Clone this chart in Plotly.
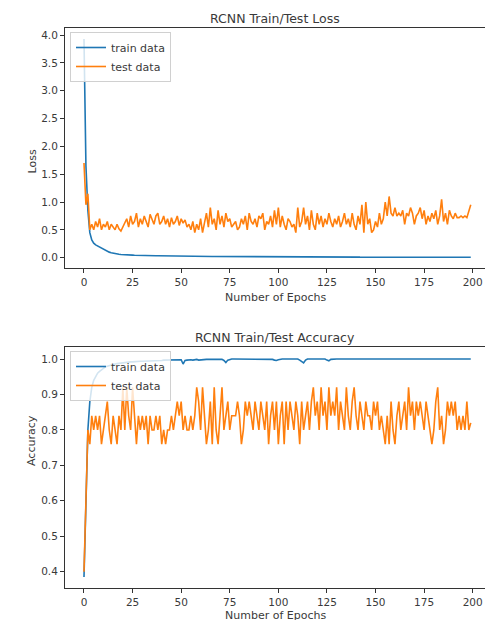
import plotly.graph_objects as go

epochs = list(range(200))

train_loss = [
    3.93, 1.65, 0.85, 0.45, 0.32, 0.26, 0.23, 0.21, 0.19, 0.17,
    0.15, 0.13, 0.115, 0.10, 0.09, 0.08, 0.072, 0.066, 0.061, 0.057,
    0.053, 0.05, 0.048, 0.046, 0.045, 0.046, 0.044, 0.042, 0.041, 0.040,
    0.039, 0.038, 0.038, 0.037, 0.036, 0.036, 0.035, 0.035, 0.034, 0.033,
    0.033, 0.032, 0.032, 0.031, 0.031, 0.030, 0.030, 0.029, 0.029, 0.028,
    0.028, 0.029, 0.027, 0.027, 0.026, 0.026, 0.026, 0.025, 0.025, 0.025,
    0.024, 0.024, 0.024, 0.023, 0.023, 0.023, 0.022, 0.022, 0.022, 0.022,
    0.021, 0.021, 0.022, 0.024, 0.021, 0.020, 0.020, 0.020, 0.020, 0.019,
    0.019, 0.019, 0.019, 0.018, 0.018, 0.018, 0.018, 0.018, 0.017, 0.017,
    0.017, 0.017, 0.017, 0.016, 0.016, 0.016, 0.016, 0.016, 0.017, 0.018,
    0.016, 0.015, 0.015, 0.015, 0.015, 0.015, 0.015, 0.014, 0.014, 0.014,
    0.014, 0.016, 0.020, 0.022, 0.016, 0.014, 0.013, 0.013, 0.013, 0.013,
    0.013, 0.013, 0.013, 0.012, 0.012, 0.014, 0.015, 0.012, 0.012, 0.012,
    0.012, 0.012, 0.012, 0.011, 0.011, 0.011, 0.011, 0.011, 0.011, 0.011,
    0.011, 0.011, 0.010, 0.010, 0.010, 0.010, 0.010, 0.010, 0.010, 0.010,
    0.010, 0.010, 0.010, 0.010, 0.010, 0.009, 0.009, 0.009, 0.009, 0.009,
    0.009, 0.009, 0.009, 0.009, 0.009, 0.009, 0.009, 0.009, 0.009, 0.008,
    0.008, 0.008, 0.008, 0.008, 0.008, 0.008, 0.008, 0.008, 0.008, 0.008,
    0.008, 0.008, 0.008, 0.008, 0.008, 0.007, 0.007, 0.007, 0.007, 0.007,
    0.007, 0.007, 0.007, 0.007, 0.007, 0.007, 0.007, 0.007, 0.007, 0.007,
]

test_loss = [
    1.70, 0.95, 1.15, 0.50, 0.60, 0.50, 0.65, 0.55, 0.70, 0.50,
    0.60, 0.55, 0.65, 0.50, 0.60, 0.55, 0.50, 0.60, 0.52, 0.48,
    0.55, 0.65, 0.70, 0.55, 0.75, 0.60, 0.65, 0.80, 0.55, 0.70,
    0.60, 0.75, 0.65, 0.55, 0.78, 0.70, 0.60, 0.75, 0.80, 0.60,
    0.65, 0.75, 0.60, 0.70, 0.55, 0.72, 0.60, 0.65, 0.75, 0.58,
    0.70, 0.62, 0.68, 0.55, 0.60, 0.50, 0.65, 0.45, 0.60, 0.50,
    0.70, 0.45, 0.60, 0.80, 0.55, 0.90, 0.60, 0.70, 0.50, 0.85,
    0.60, 0.75, 0.55, 0.80, 0.65, 0.70, 0.55, 0.60, 0.65, 0.50,
    0.55, 0.70, 0.60, 0.75, 0.50, 0.80, 0.65, 0.60, 0.70, 0.55,
    0.75, 0.70, 0.80, 0.50, 0.65, 0.60, 0.75, 0.55, 0.85, 0.60,
    0.90, 0.55, 0.75, 0.60, 0.50, 0.70, 0.65, 0.55, 0.60, 0.45,
    0.90, 0.55, 0.65, 0.90, 0.60, 0.75, 0.50, 0.85, 0.60, 0.50,
    0.80, 0.60, 0.75, 0.55, 0.70, 0.60, 0.80, 0.65, 0.55, 0.70,
    0.60, 0.75, 0.55, 0.65, 0.80, 0.60, 0.70, 0.55, 0.80, 0.60,
    0.50, 0.75, 0.60, 0.95, 0.45, 1.00, 0.60, 0.70, 0.45, 0.50,
    0.65, 0.55, 0.80, 0.60, 0.70, 1.00, 0.75, 1.10, 0.80, 0.75,
    0.90, 0.75, 0.80, 0.75, 0.85, 0.60, 0.80, 0.75, 0.90, 0.80,
    0.60, 0.75, 0.80, 0.90, 0.70, 0.85, 0.60, 0.75, 0.65, 0.80,
    0.70, 0.85, 0.60, 0.75, 1.05, 0.65, 0.80, 0.60, 0.85, 0.75,
    0.70, 0.80, 0.72, 0.72, 0.75, 0.72, 0.75, 0.72, 0.85, 0.95,
]

train_acc = [
    0.385, 0.64, 0.80, 0.88, 0.92, 0.94, 0.95, 0.96, 0.965, 0.97,
    0.975, 0.978, 0.98, 0.982, 0.984, 0.985, 0.986, 0.987, 0.988, 0.989,
    0.99, 0.99, 0.991, 0.991, 0.992, 0.992, 0.993, 0.993, 0.993, 0.994,
    0.994, 0.994, 0.995, 0.995, 0.995, 0.995, 0.996, 0.996, 0.996, 0.996,
    0.996, 0.997, 0.997, 0.997, 0.997, 0.997, 0.997, 0.998, 0.998, 0.998,
    0.998, 0.986, 0.996, 0.997, 0.998, 0.998, 0.997, 0.998, 0.999, 0.997,
    0.998, 0.999, 0.999, 0.999, 0.999, 0.999, 0.999, 0.999, 1.0, 1.0,
    0.999, 0.999, 0.996, 0.99, 0.997, 0.999, 1.0, 1.0, 1.0, 1.0,
    1.0, 1.0, 1.0, 1.0, 1.0, 1.0, 1.0, 1.0, 1.0, 1.0,
    1.0, 1.0, 1.0, 1.0, 1.0, 1.0, 1.0, 0.999, 0.997, 0.996,
    0.998, 1.0, 1.0, 1.0, 1.0, 1.0, 1.0, 1.0, 1.0, 1.0,
    1.0, 0.997, 0.992, 0.989, 0.997, 1.0, 1.0, 1.0, 1.0, 1.0,
    1.0, 1.0, 1.0, 1.0, 1.0, 0.997, 0.995, 0.999, 1.0, 1.0,
    1.0, 1.0, 1.0, 1.0, 1.0, 1.0, 1.0, 1.0, 1.0, 1.0,
    1.0, 1.0, 1.0, 1.0, 1.0, 1.0, 1.0, 1.0, 1.0, 1.0,
    1.0, 1.0, 1.0, 1.0, 1.0, 1.0, 1.0, 1.0, 1.0, 1.0,
    1.0, 1.0, 1.0, 1.0, 1.0, 1.0, 1.0, 1.0, 1.0, 1.0,
    1.0, 1.0, 1.0, 1.0, 1.0, 1.0, 1.0, 1.0, 1.0, 1.0,
    1.0, 1.0, 1.0, 1.0, 1.0, 1.0, 1.0, 1.0, 1.0, 1.0,
    1.0, 1.0, 1.0, 1.0, 1.0, 1.0, 1.0, 1.0, 1.0, 1.0,
]

test_acc = [
    0.40, 0.64, 0.80, 0.76, 0.84, 0.80, 0.84, 0.80, 0.84, 0.76,
    0.80, 0.84, 0.88, 0.80, 0.76, 0.84, 0.80, 0.76, 0.84, 0.80,
    0.92, 0.80, 0.92, 0.84, 0.80, 0.92, 0.84, 0.76, 0.84, 0.80,
    0.84, 0.80, 0.84, 0.76, 0.84, 0.80, 0.80, 0.84, 0.80, 0.84,
    0.76, 0.80, 0.76, 0.80, 0.80, 0.84, 0.80, 0.84, 0.88, 0.84,
    0.88, 0.80, 0.84, 0.80, 0.80, 0.84, 0.80, 0.84, 0.92, 0.88,
    0.80, 0.92, 0.84, 0.76, 0.80, 0.88, 0.76, 0.92, 0.80, 0.76,
    0.84, 0.92, 0.80, 0.84, 0.88, 0.80, 0.84, 0.84, 0.84, 0.88,
    0.84, 0.76, 0.80, 0.88, 0.84, 0.88, 0.84, 0.80, 0.88, 0.84,
    0.80, 0.88, 0.84, 0.80, 0.88, 0.76, 0.84, 0.88, 0.80, 0.88,
    0.76, 0.84, 0.88, 0.76, 0.88, 0.80, 0.88, 0.84, 0.80, 0.88,
    0.84, 0.76, 0.88, 0.80, 0.84, 0.88, 0.80, 0.88, 0.92, 0.84,
    0.88, 0.80, 0.92, 0.84, 0.88, 0.80, 0.92, 0.84, 0.88, 0.84,
    0.92, 0.80, 0.88, 0.84, 0.80, 0.92, 0.84, 0.80, 0.88, 0.92,
    0.84, 0.80, 0.88, 0.84, 0.80, 0.88, 0.84, 0.84, 0.80, 0.88,
    0.84, 0.88, 0.80, 0.84, 0.80, 0.76, 0.84, 0.76, 0.88, 0.80,
    0.76, 0.84, 0.88, 0.80, 0.84, 0.88, 0.80, 0.92, 0.84, 0.88,
    0.80, 0.88, 0.84, 0.88, 0.84, 0.80, 0.88, 0.84, 0.80, 0.76,
    0.80, 0.88, 0.92, 0.80, 0.84, 0.76, 0.80, 0.88, 0.84, 0.88,
    0.84, 0.88, 0.80, 0.84, 0.80, 0.84, 0.80, 0.88, 0.80, 0.82,
]

x_ticks = [0, 25, 50, 75, 100, 125, 150, 175, 200]
loss_ticks = [0.0, 0.5, 1.0, 1.5, 2.0, 2.5, 3.0, 3.5, 4.0]
acc_ticks = [0.4, 0.5, 0.6, 0.7, 0.8, 0.9, 1.0]

BLUE = "#1f77b4"
ORANGE = "#ff7f0e"
FONT = "DejaVu Sans"
TXT = "#3a3a3a"

W, H = 490, 620
ML, MR = 65, 0
MT = 28
MB = H - 588
PW = W - ML - MR
PH = H - MT - MB
top_dom = [(588 - 268) / PH, 1.0]
bot_dom = [0.0, (588 - 347) / PH]


def py(p):
    """page pixel row -> paper y"""
    return (H - MB - p) / PH


def px(p):
    """page pixel column -> paper x"""
    return (p - ML) / PW


fig = go.Figure()
fig.add_trace(go.Scatter(x=epochs, y=train_loss, mode="lines", name="train data",
                         line=dict(color=BLUE, width=1.6), xaxis="x", yaxis="y", legend="legend"))
fig.add_trace(go.Scatter(x=epochs, y=test_loss, mode="lines", name="test data",
                         line=dict(color=ORANGE, width=1.6), xaxis="x", yaxis="y", legend="legend"))
fig.add_trace(go.Scatter(x=epochs, y=train_acc, mode="lines", name="train data",
                         line=dict(color=BLUE, width=1.6), xaxis="x2", yaxis="y2", legend="legend2"))
fig.add_trace(go.Scatter(x=epochs, y=test_acc, mode="lines", name="test data",
                         line=dict(color=ORANGE, width=1.6), xaxis="x2", yaxis="y2", legend="legend2"))

axis_common = dict(showline=True, linecolor="#333", linewidth=1, mirror=True,
                   ticks="outside", ticklen=4, tickcolor="#333", tickwidth=1,
                   showgrid=False, zeroline=False,
                   tickfont=dict(family=FONT, size=10.5, color=TXT))

xr = [-9.77, 208.9]
legend_common = dict(xanchor="left", yanchor="top",
                     bgcolor="rgba(255,255,255,0.8)", bordercolor="#d0d0d0", borderwidth=1,
                     font=dict(family=FONT, size=11, color=TXT), tracegroupgap=0,
                     itemwidth=30)
fig.update_layout(
    width=W, height=H,
    margin=dict(l=ML, r=MR, t=MT, b=MB),
    paper_bgcolor="white", plot_bgcolor="white",
    font=dict(family=FONT, color=TXT),
    xaxis=dict(domain=[0, 1], range=xr, anchor="y", tickvals=x_ticks,
               ticktext=[str(v) for v in x_ticks], **axis_common),
    yaxis=dict(domain=top_dom, range=[-0.185, 4.126], anchor="x", tickvals=loss_ticks,
               ticktext=[f"{v:.1f}" for v in loss_ticks], **axis_common),
    xaxis2=dict(domain=[0, 1], range=xr, anchor="y2", tickvals=x_ticks,
                ticktext=[str(v) for v in x_ticks], **axis_common),
    yaxis2=dict(domain=bot_dom, range=[0.354, 1.034], anchor="x2", tickvals=acc_ticks,
                ticktext=[f"{v:.1f}" for v in acc_ticks], **axis_common),
    legend=dict(x=px(70), y=py(32), **legend_common),
    legend2=dict(x=px(70), y=py(351), **legend_common),
    showlegend=True,
)

ann = [
    dict(text="RCNN Train/Test Loss", x=px(275), y=py(18), yanchor="middle"),
    dict(text="RCNN Train/Test Accuracy", x=px(275), y=py(337), yanchor="middle"),
    dict(text="Number of Epochs", x=px(275), y=py(297), yanchor="middle"),
    dict(text="Number of Epochs", x=px(275), y=py(615), yanchor="middle"),
    dict(text="Loss", x=px(23), y=py(148), textangle=-90),
    dict(text="Accuracy", x=px(23), y=py(468), textangle=-90),
]
for a in ann:
    a.update(xref="paper", yref="paper", showarrow=False)
    size = 12.5 if a["text"].startswith("RCNN") else 11
    a["font"] = dict(family=FONT, size=size, color=TXT)
fig.update_layout(annotations=ann)

fig.write_html(
    "out.html",
    config={"displayModeBar": False, "staticPlot": True},
    post_script="document.documentElement.style.overflow='hidden';"
                "document.body.style.margin='0';document.body.style.overflow='hidden';",
)
